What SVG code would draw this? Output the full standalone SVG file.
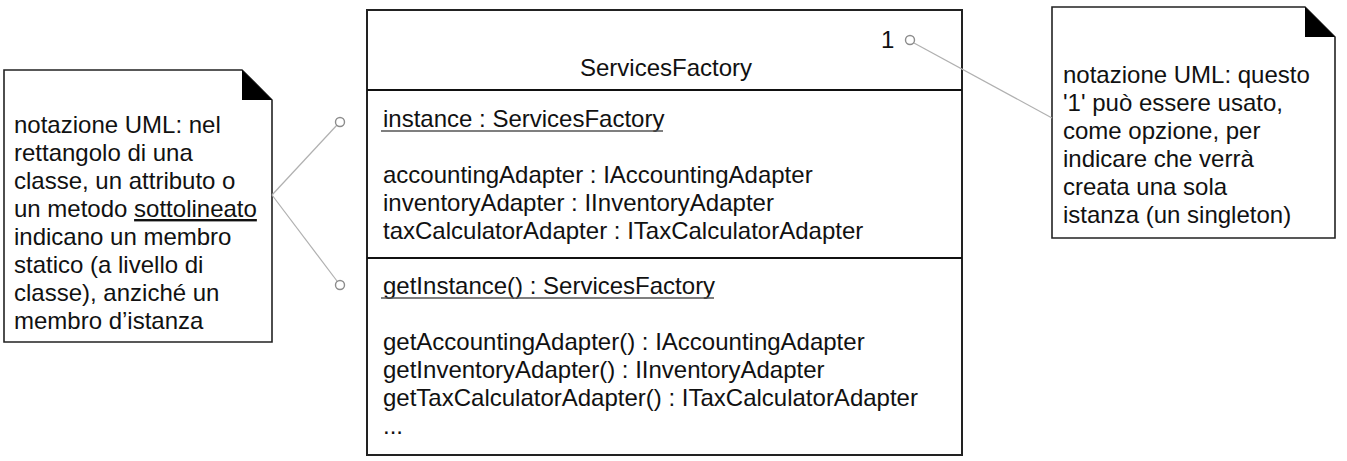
<svg xmlns="http://www.w3.org/2000/svg" width="1347" height="461" viewBox="0 0 1347 461">
<style>
  text { font-family: "Liberation Sans", Arial, sans-serif; font-size: 24px; fill: #111; }
  .box { fill: #fff; stroke: #222; stroke-width: 2; }
  .note { fill: #fff; stroke: #222; stroke-width: 1.6; }
  .fold { fill: #000; }
  .div { stroke: #111; stroke-width: 2; }
  .conn { stroke: #b0b0b0; stroke-width: 1.2; fill: none; }
  .anchor { fill: #fff; stroke: #8c8c8c; stroke-width: 1.4; }
  .ul { stroke: #555; stroke-width: 1.6; }
</style>
<rect width="1347" height="461" fill="#fff"/>

<g id="note-static">
  <path class="note" d="M4,70 H242 L272,100 V342 H4 Z"/>
  <path class="fold" d="M242,70 L272,100 H242 Z"/>
  <text x="14" y="133">notazione UML: nel</text>
  <text x="14" y="161">rettangolo di una</text>
  <text x="14" y="189">classe, un attributo o</text>
  <text x="14" y="217">un metodo <tspan text-decoration="underline">sottolineato</tspan></text>
  <text x="14" y="245">indicano un membro</text>
  <text x="14" y="273">statico (a livello di</text>
  <text x="14" y="301">classe), anziché un</text>
  <text x="14" y="329">membro d’istanza</text>
</g>

<g id="class-ServicesFactory">
  <rect class="box" x="367" y="10" width="595" height="445"/>
  <line class="div" x1="367" y1="90" x2="962" y2="90"/>
  <line class="div" x1="367" y1="258" x2="962" y2="258"/>
  <text x="881" y="48">1</text>
  <text x="666" y="76" text-anchor="middle">ServicesFactory</text>
  <text x="383" y="127">instance : ServicesFactory</text>
  <line class="ul" x1="381" y1="131" x2="663" y2="131"/>
  <text x="383" y="183">accountingAdapter : IAccountingAdapter</text>
  <text x="383" y="211">inventoryAdapter : IInventoryAdapter</text>
  <text x="383" y="239">taxCalculatorAdapter : ITaxCalculatorAdapter</text>
  <text x="383" y="294">getInstance() : ServicesFactory</text>
  <line class="ul" x1="381" y1="298" x2="714" y2="298"/>
  <text x="383" y="350">getAccountingAdapter() : IAccountingAdapter</text>
  <text x="383" y="378">getInventoryAdapter() : IInventoryAdapter</text>
  <text x="383" y="406">getTaxCalculatorAdapter() : ITaxCalculatorAdapter</text>
  <text x="383" y="434">...</text>
</g>

<g id="note-singleton">
  <path class="note" d="M1052,7 H1305 L1335,37 V238 H1052 Z"/>
  <path class="fold" d="M1305,7 L1335,37 H1305 Z"/>
  <text x="1063" y="83">notazione UML: questo</text>
  <text x="1063" y="111">'1' può essere usato,</text>
  <text x="1063" y="139">come opzione, per</text>
  <text x="1063" y="167">indicare che verrà</text>
  <text x="1063" y="195">creata una sola</text>
  <text x="1063" y="223">istanza (un singleton)</text>
</g>

<g id="connectors">
  <line class="conn" x1="272" y1="195" x2="337" y2="125"/>
  <line class="conn" x1="272" y1="195" x2="337" y2="281"/>
  <line class="conn" x1="914" y1="43" x2="1052" y2="118"/>
  <circle class="anchor" cx="340" cy="122" r="4.5"/>
  <circle class="anchor" cx="340" cy="285" r="4.5"/>
  <circle class="anchor" cx="910" cy="40" r="4.5"/>
</g>
</svg>
